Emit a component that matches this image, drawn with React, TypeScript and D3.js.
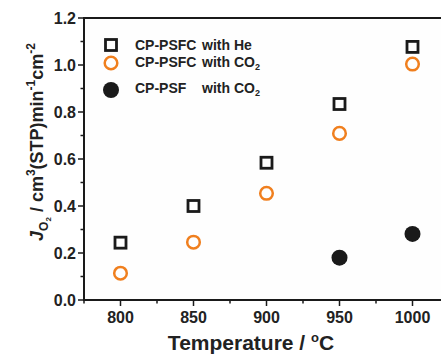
import React from "react";
import * as d3 from "d3";

const temps = [800, 850, 900, 950, 1000];
const heValues = [0.244, 0.40, 0.584, 0.834, 1.077];
const co2Values = [0.114, 0.246, 0.454, 0.709, 1.004];
const psfTemps = [950, 1000];
const psfValues = [0.18, 0.281];
const xTicks = [800, 850, 900, 950, 1000];
const yTicks = [0.0, 0.2, 0.4, 0.6, 0.8, 1.0, 1.2];

const W = 441, H = 355;
const FONT = "'Liberation Sans', Arial, sans-serif";

export default function App() {
  const x = d3.scaleLinear().domain([775, 1025]).range([84, 449]);
  const y = d3.scaleLinear().domain([0, 1.2]).range([300, 18]);
  const xMinor = d3.range(775, 1026, 25).filter((v) => !xTicks.includes(v));
  const yMinor = d3.range(0.1, 1.2, 0.2);
  const orange = "#f07f1e";
  const dark = "#1a1a1a";
  return (
    <svg width={W} height={H} style={{ position: "absolute", left: 0, top: 0 }} fontFamily={FONT}>
      <rect width={W} height={H} fill="#fff" />
      <rect x={x(775)} y={y(1.2)} width={x(1025) - x(775)} height={y(0) - y(1.2)} fill="#fefefe" stroke={dark} strokeWidth={2} />
      {xTicks.map((t) => (
        <g key={"xt" + t}>
          <line x1={x(t)} x2={x(t)} y1={y(0)} y2={y(0) + 6} stroke={dark} strokeWidth={1.5} />
          <text x={x(t)} y={323} textAnchor="middle" fontSize={16} fontWeight="bold" fill="#222">{t}</text>
        </g>
      ))}
      {xMinor.map((t) => (
        <line key={"xm" + t} x1={x(t)} x2={x(t)} y1={y(0)} y2={y(0) + 3.5} stroke={dark} strokeWidth={1.5} />
      ))}
      {yTicks.map((t) => (
        <g key={"yt" + t}>
          <line x1={x(775) - 6} x2={x(775)} y1={y(t)} y2={y(t)} stroke={dark} strokeWidth={1.5} />
          <text x={76} y={y(t) + 6} textAnchor="end" fontSize={16} fontWeight="bold" fill="#222">{t.toFixed(1)}</text>
        </g>
      ))}
      {yMinor.map((t) => (
        <line key={"ym" + t} x1={x(775) - 3.5} x2={x(775)} y1={y(t)} y2={y(t)} stroke={dark} strokeWidth={1.5} />
      ))}
      {temps.map((t, i) => (
        <rect key={"he" + i} x={x(t) - 5.5} y={y(heValues[i]) - 5.5} width={11} height={11} fill="none" stroke={dark} strokeWidth={2.8} />
      ))}
      {temps.map((t, i) => (
        <circle key={"co" + i} cx={x(t)} cy={y(co2Values[i])} r={6.3} fill="none" stroke={orange} strokeWidth={2.5} />
      ))}
      {psfTemps.map((t, i) => (
        <circle key={"psf" + i} cx={x(t)} cy={y(psfValues[i])} r={8} fill={dark} />
      ))}
      {/* legend */}
      <rect x={105.5} y={39.5} width={11} height={11} fill="none" stroke={dark} strokeWidth={2.8} />
      <circle cx={111} cy={63} r={6.3} fill="none" stroke={orange} strokeWidth={2.5} />
      <circle cx={111} cy={90} r={8} fill={dark} />
      <g fontSize={14} fontWeight="bold" fill="#222">
        <text x={135} y={50}>CP-PSFC<tspan x={202}>with He</tspan></text>
        <text x={135} y={67}>CP-PSFC<tspan x={202}>with CO</tspan><tspan fontSize={9} dy={3}>2</tspan></text>
        <text x={135} y={93}>CP-PSF<tspan x={202}>with CO</tspan><tspan fontSize={9} dy={3}>2</tspan></text>
      </g>
      <text x={251} y={350} textAnchor="middle" fontSize={21} fontWeight="bold" fill="#222">Temperature / <tspan fontSize={13} dy={-8}>o</tspan><tspan dy={8}>C</tspan></text>
      <text transform="translate(43,142) rotate(-90)" textAnchor="middle" fontSize={18} fontWeight="bold" fill="#222">
        <tspan fontStyle="italic">J</tspan><tspan fontSize={12} dy={5}>O</tspan><tspan fontSize={8} dy={3}>2</tspan><tspan dy={-8}> / cm</tspan><tspan fontSize={12} dy={-8}>3</tspan><tspan dy={8}>(STP)min</tspan><tspan fontSize={12} dy={-8}>-1</tspan><tspan dy={8}>cm</tspan><tspan fontSize={12} dy={-8}>-2</tspan>
      </text>
    </svg>
  );
}
